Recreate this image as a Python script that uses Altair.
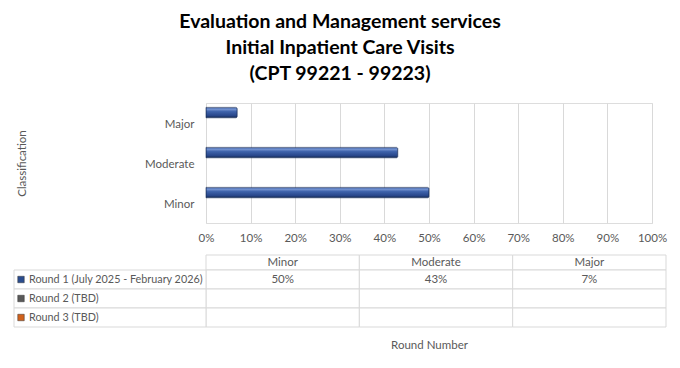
import altair as alt
import pandas as pd

# ---------------- data ----------------
categories = ["Minor", "Moderate", "Major"]          # table column order
bar_order = ["Major", "Moderate", "Minor"]           # top-to-bottom order in the bar plot
rounds = ["Round 1 (July 2025 - February 2026)", "Round 2 (TBD)", "Round 3 (TBD)"]
round1_values = [0.50, 0.43, 0.07]
round2_values = [None, None, None]
round3_values = [None, None, None]
round_colors = ["#2A4C8E", "#595959", "#D0611C"]
x_tick_values = [0.0, 0.1, 0.2, 0.3, 0.4, 0.5, 0.6, 0.7, 0.8, 0.9, 1.0]

records = []
for r, vals in zip(rounds, [round1_values, round2_values, round3_values]):
    for c, v in zip(categories, vals):
        records.append({
            "Round": r,
            "Classification": c,
            "Value": v,
            "Label": "" if v is None else f"{round(v * 100)}%",
        })
df = pd.DataFrame(records)
bars_df = df.dropna(subset=["Value"])
header_df = pd.DataFrame({"Classification": categories, "Row": ["header"] * len(categories)})
label_df = pd.DataFrame({"Round": rounds, "Col": ["series"] * len(rounds)})

FONT = "Lato"
GRAY = "#595959"
GRID = "#D9D9D9"
FS = 11.5

bar_fill = alt.Gradient(
    gradient="linear", x1=0, y1=0, x2=0, y2=1,
    stops=[
        alt.GradientStop(offset=0, color="#3A5FA6"),
        alt.GradientStop(offset=0.18, color="#7593D0"),
        alt.GradientStop(offset=0.4, color="#3F63AB"),
        alt.GradientStop(offset=0.8, color="#28468A"),
        alt.GradientStop(offset=1, color="#14284F"),
    ],
)

# ---------------- bars ----------------
bars = alt.Chart(bars_df).mark_bar(
    fill=bar_fill, stroke="#1A2F5A", strokeWidth=0.6, cornerRadiusEnd=1.5
).encode(
    x=alt.X(
        "Value:Q",
        scale=alt.Scale(domain=[0, 1], nice=False),
        axis=alt.Axis(
            values=x_tick_values, format=".0%", grid=True, gridColor=GRID, gridWidth=1,
            domain=False, ticks=False, labelPadding=9, labelFontSize=FS, labelFlush=False,
            labelColor=GRAY, labelFont=FONT,
            title="Round Number", titleY=122, titleX=223, titleBaseline="middle",
            titleFontSize=FS, titleFontWeight="normal", titleColor=GRAY, titleFont=FONT,
        ),
    ),
    y=alt.Y(
        "Classification:N",
        sort=bar_order,
        scale=alt.Scale(domain=bar_order, paddingInner=0, paddingOuter=0),
        axis=alt.Axis(
            domain=False, ticks=False, grid=False, labelPadding=12, labelFontSize=FS,
            labelColor=GRAY, labelFont=FONT, labelOffset=2,
            title="Classification", titleX=-184, titleY=60, titleAngle=-90,
            titleAlign="center", titleBaseline="middle",
            titleFontSize=FS, titleFontWeight="normal", titleColor=GRAY, titleFont=FONT,
        ),
    ),
    yOffset=alt.YOffset(
        "Round:N", scale=alt.Scale(domain=rounds, paddingInner=0, paddingOuter=0.42)
    ),
)

# ---------------- data table (below the plot) ----------------
col_x = alt.X(
    "Classification:N", sort=categories,
    scale=alt.Scale(domain=categories, range=[0, 460], paddingInner=0, paddingOuter=0),
    axis=None,
)
row_y = alt.Y(
    "Round:N", sort=rounds,
    scale=alt.Scale(domain=rounds, range=[167, 224], paddingInner=0, paddingOuter=0),
    axis=None,
)
header_y = alt.Y(
    "Row:N", scale=alt.Scale(domain=["header"], range=[152, 167], paddingInner=0, paddingOuter=0),
    axis=None,
)
label_x = alt.X(
    "Col:N", scale=alt.Scale(domain=["series"], range=[-192, 0], paddingInner=0, paddingOuter=0),
    axis=None,
)

cell_style = dict(fill="white", stroke=GRID, strokeWidth=1)
text_style = dict(font=FONT, fontSize=FS, color=GRAY)

header_rect = alt.Chart(header_df).mark_rect(**cell_style).encode(x=col_x, y=header_y)
header_text = alt.Chart(header_df).mark_text(**text_style).encode(
    x=col_x, y=header_y, text="Classification:N"
)
cells = alt.Chart(df).mark_rect(**cell_style).encode(x=col_x, y=row_y)
cell_text = alt.Chart(df).mark_text(**text_style).encode(x=col_x, y=row_y, text="Label:N")
label_rect = alt.Chart(label_df).mark_rect(**cell_style).encode(x=label_x, y=row_y)
# label column is 192 px wide; text starts 15 px from its left edge (band centre - 81)
label_text = alt.Chart(label_df).mark_text(
    align="left", dx=-81, font=FONT, fontSize=10.8, color=GRAY
).encode(x=label_x, y=row_y, text="Round:N")
keys = alt.Chart(label_df).mark_square(
    size=42, xOffset=-89, opacity=1, strokeWidth=0.5, stroke="#333333"
).encode(
    x=label_x, y=row_y,
    color=alt.Color("Round:N", scale=alt.Scale(domain=rounds, range=round_colors), legend=None),
)

chart = alt.layer(
    bars, header_rect, header_text, cells, cell_text, label_rect, label_text, keys
).resolve_scale(
    x="independent", y="independent", color="independent"
).properties(
    width=446,
    height=120,
    autosize=alt.AutoSizeParams(type="none"),
    padding={"left": 198, "top": 95, "right": 20, "bottom": 137},
    title=alt.TitleParams(
        text=["Evaluation and Management services", "Initial Inpatient Care Visits", "(CPT 99221 - 99223)"],
        font=FONT, fontSize=19.5, fontWeight="bold", color="black",
        anchor="middle", frame="group", dx=-89, offset=19, lineHeight=26,
    ),
).configure_view(stroke=None).configure(background="white")

chart.save("out.html", embed_options={"renderer": "svg", "actions": False})
